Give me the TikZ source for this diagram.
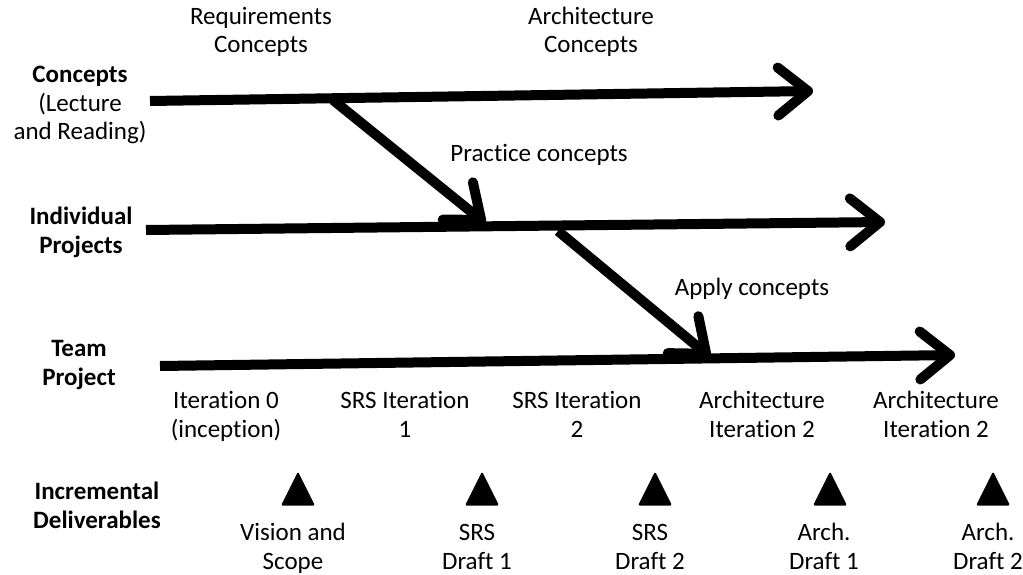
\documentclass[tikz,border=0pt]{standalone}
\usepackage{fontspec}
\setmainfont{Carlito}[Ligatures=NoCommon]
\usepackage{tikz}
\usetikzlibrary{arrows.meta, shapes.geometric}
\tikzset{every node/.append style={font=\fontsize{25}{28.5}\selectfont, inner sep=0pt}}
\tikzset{
  rowtext/.style={align=center, anchor=base},
  rowlabel/.style={rowtext, font=\fontsize{25}{28.5}\selectfont\bfseries},
  flow/.style={line width=10pt, -{Straight Barb[length=30pt, width=48pt, round]}},
  milestone/.style={isosceles triangle, shape border rotate=90, isosceles triangle stretches,
    minimum width=34pt, minimum height=34pt, fill, rounded corners=1.5pt}
}

\begin{document}
\begin{tikzpicture}[x=1pt, y=-1pt]
    \useasboundingbox (0,0) rectangle (1023,575);
    % row labels (anchored at the last line)
    \node[rowtext] (concepts) at (80,140) {\textbf{Concepts}\\(Lecture\\and Reading)};
    \node[rowlabel] (indiv) at (81,253) {Individual\\Projects};
    \node[rowlabel] (team) at (79,385) {Team\\Project};
    \node[rowlabel] (incr) at (97,528) {Incremental\\Deliverables};
    % timelines
    \coordinate (c0) at (150,101);
    \coordinate (c1) at (813,91);
    \coordinate (i0) at (146,230);
    \coordinate (i1) at (885,222);
    \coordinate (t0) at (160,366);
    \coordinate (t1) at (955,355);
    \draw[flow] (c0) -- (c1);
    \draw[flow] (i0) -- (i1);
    \draw[flow] (t0) -- (t1);
    % hand-overs between rows
    \coordinate (p0) at (333,100);
    \coordinate (p1) at (485,223);
    \coordinate (a0) at (558,231);
    \coordinate (a1) at (710,357);
    \draw[flow] (p0) -- (p1);
    \draw[flow] (a0) -- (a1);
    \node[rowtext] (practice) at (539,162) {Practice concepts};
    \node[rowtext] (apply) at (752,295) {Apply concepts};
    % concepts on top
    \node[rowtext] (reqc) at (261,53) {Requirements\\Concepts};
    \node[rowtext] (archc) at (591,53) {Architecture\\Concepts};
    % iterations
    \foreach \x/\n/\t in {226/0/{Iteration 0\\(inception)}, 405/1/{SRS Iteration\\1},
        577/2/{SRS Iteration\\2}, 762/3/{Architecture\\Iteration 2}, 936/4/{Architecture\\Iteration 2}}
        \node[rowtext] (iter\n) at (\x,437) {\t};
    % deliverables
    \foreach \x/\d/\n/\t in {298/293/1/{Vision and\\Scope}, 482/477/2/{SRS\\Draft 1},
        655/650/3/{SRS\\Draft 2}, 830/824/4/{Arch.\\Draft 1}, 993/988/5/{Arch.\\Draft 2}} {
        \node[milestone] (tri\n) at (\x,495) {};
        \node[rowtext] (deliv\n) at (\d,569) {\t};
    }
\end{tikzpicture}
\end{document}
